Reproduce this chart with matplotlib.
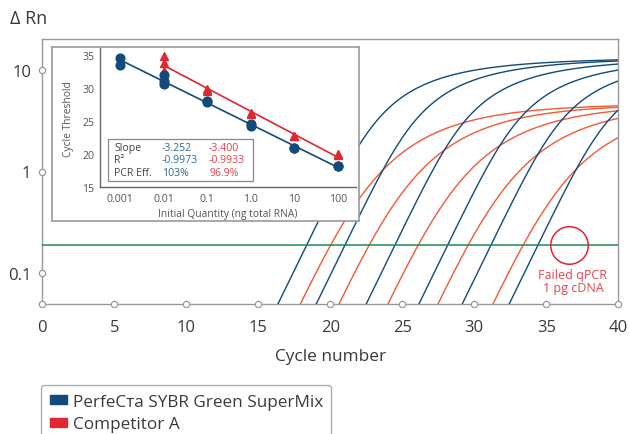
import numpy as np
import matplotlib
matplotlib.use("Agg")
import matplotlib.pyplot as plt
from matplotlib.patches import Rectangle, Patch
from matplotlib.ticker import NullLocator

plt.rcParams['font.family'] = ['Open Sans', 'DejaVu Sans']

# ---- main amplification plot data ----
threshold = 0.19
# cycle where each curve crosses the threshold, and its plateau level
blue_ct = [18.36, 21.02, 24.49, 28.15, 31.16, 34.42]
blue_fmax = [13.0, 13.0, 12.9, 12.9, 12.9, 12.9]
orange_ct = [20.03, 22.71, 26.11, 29.58, 33.40]
orange_fmax = [4.6, 4.6, 4.6, 4.6, 4.6]

x_ticks = [0, 5, 10, 15, 20, 25, 30, 35, 40]
y_ticks = [0.1, 1, 10]
y_ticklabels = ['0.1', '1', '10']

# ---- inset standard curve data ----
inset_q = [0.001, 0.01, 0.1, 1.0, 10, 100]
inset_qlabels = ['0.001', '0.01', '0.1', '1.0', '10', '100']
blue_q = [0.001, 0.001, 0.01, 0.01, 0.01, 0.1, 0.1, 1.0, 1.0, 10, 10, 100, 100]
blue_cq = [34.5, 33.5, 32.0, 31.0, 30.5, 28.0, 27.8, 24.5, 24.2, 21.0, 20.9, 18.25, 18.2]
red_q = [0.01, 0.01, 0.01, 0.1, 0.1, 1.0, 1.0, 10, 10, 100, 100]
red_cq = [34.75, 33.75, 32.5, 29.85, 29.5, 26.25, 26.1, 22.75, 22.7, 20.0, 19.9]

stat_names = ['Slope', 'R²', 'PCR Eff.']
stat_blue = ['-3.252', '-0.9973', '103%']
stat_red = ['-3.400', '-0.9933', '96.9%']

BLUE = '#124a7c'
ORANGE = '#f15a33'
RED = '#e0262f'
GREEN = '#1e8a4e'
GRAY = '#9a9a9a'
TXT = '#3a3a3a'


def amp_curve(ct, fmax, s, a, b, step=0.01):
    # growth in log space, slowing down as the signal nears its plateau
    def h(d):
        return 1 - np.exp(-a * d - b * d * d)
    d0 = np.log10(fmax / threshold)
    fwd = [d0]
    for _ in range(int((40 - ct) / step) + 1):
        d = fwd[-1]
        fwd.append(d - s * h(d) * step)
    back = [d0]
    for _ in range(int((ct - 12) / step)):
        d = back[-1]
        back.append(d + s * h(d) * step)
    back = back[::-1]
    c_back = ct - step * np.arange(len(back))[::-1]
    c_fwd = ct + step * np.arange(len(fwd))
    cyc = np.concatenate([c_back, c_fwd[1:]])
    dd = np.concatenate([back, fwd[1:]])
    return cyc, fmax * 10 ** (-dd)


W, H = 630, 435


def fx(x):
    return x / W


def fy(y):
    return 1 - y / H


fig = plt.figure(figsize=(6.3, 4.35), dpi=100)

ax = fig.add_axes([fx(42.3), fy(305), (618.3 - 42.3) / W, (305 - 40) / H], zorder=1)
ax.set_yscale('log')
for ct, fm in zip(orange_ct, orange_fmax):
    c, f = amp_curve(ct, fm, 0.30, 0.7, 0.5)
    ax.plot(c, f, color=ORANGE, lw=1.0, zorder=2)
for ct, fm in zip(blue_ct, blue_fmax):
    c, f = amp_curve(ct, fm, 0.29, 0.6, 1.3)
    ax.plot(c, f, color=BLUE, lw=1.0, zorder=3)
ax.axhline(threshold, color=GREEN, lw=1.1, zorder=4)

ax.set_xlim(0, 40)
ax.set_ylim(0.05, 20)
ax.set_xticks(x_ticks)
ax.set_xticklabels([str(t) for t in x_ticks])
ax.set_yticks(y_ticks)
ax.set_yticklabels(y_ticklabels)
ax.yaxis.set_minor_locator(NullLocator())
ax.tick_params(length=0, labelsize=12, colors=TXT)
ax.tick_params(axis='x', pad=11)
ax.tick_params(axis='y', pad=8)
for sp in ax.spines.values():
    sp.set_color(GRAY)
    sp.set_linewidth(1)
ax.plot(x_ticks, [0.05] * len(x_ticks), 'o', ms=4.5, mfc='white', mec=GRAY,
        mew=0.9, clip_on=False, zorder=6)
ax.plot([0] * len(y_ticks), y_ticks, 'o', ms=4.5, mfc='white', mec=GRAY,
        mew=0.9, clip_on=False, zorder=6)
ax.set_xlabel('Cycle number', fontsize=12.4, color=TXT, labelpad=9)
fig.text(fx(10), fy(19), 'Δ Rn', fontsize=13, color=TXT, va='center')

# failed qPCR marker
ax.plot(36.6, threshold, 'o', ms=27, mfc='none', mec=RED, mew=1.1, zorder=5)
ax.text(36.85, 0.085, 'Failed qPCR\n1 pg cDNA', color='#e8444f', fontsize=9,
        ha='center', va='center', linespacing=1.0, zorder=5)

# ---- inset ----
box = fig.add_axes([fx(52), fy(222), (359 - 52) / W, (222 - 48) / H], zorder=2)
box.set_xticks([])
box.set_yticks([])
for sp in box.spines.values():
    sp.set_color(GRAY)
    sp.set_linewidth(1.2)

ins = fig.add_axes([fx(100), fy(188.3), (356 - 100) / W, (188.3 - 49) / H], zorder=3)
ins.patch.set_alpha(0)
ins.set_xscale('log')
ins.set_xlim(10 ** -3.46, 10 ** 2.42)
ins.set_ylim(15, 36)
bq = np.log10(blue_q)
rq = np.log10(red_q)
bfit = np.polyfit(bq, blue_cq, 1)
rfit = np.polyfit(rq, red_cq, 1)
bx = np.array([min(blue_q), max(blue_q)])
rx = np.array([min(red_q), max(red_q)])
ins.plot(bx, np.polyval(bfit, np.log10(bx)), color=BLUE, lw=1.2, zorder=2)
ins.plot(rx, np.polyval(rfit, np.log10(rx)), color=RED, lw=1.2, zorder=2)
ins.plot(red_q, red_cq, '^', color=RED, ms=6, zorder=3)
ins.plot(blue_q, blue_cq, 'o', color=BLUE, ms=6.3, zorder=4)
ins.set_xticks(inset_q)
ins.set_xticklabels(inset_qlabels)
ins.xaxis.set_minor_locator(NullLocator())
ins.set_yticks([15, 20, 25, 30, 35])
ins.tick_params(length=0, labelsize=7.6, colors='#555555', pad=4)
for side in ['top', 'right']:
    ins.spines[side].set_visible(False)
for side in ['left', 'bottom']:
    ins.spines[side].set_color('#666666')
    ins.spines[side].set_linewidth(1)
ins.set_xlabel('Initial Quantity (ng total RNA)', fontsize=7.4, color='#555555', labelpad=3)
ins.set_ylabel('Cycle Threshold', fontsize=7.4, color='#555555', labelpad=6)

tbl = Rectangle((fx(108), fy(182)), (253 - 108) / W, (182 - 140) / H,
                transform=fig.transFigure, fc='white', ec='#888888', lw=0.9, zorder=5)
fig.add_artist(tbl)
row_y = [148.5, 161, 174]
for yy, n, vb, vr in zip(row_y, stat_names, stat_blue, stat_red):
    fig.text(fx(114), fy(yy), n, fontsize=7.6, color='#444444', va='center', zorder=6)
    fig.text(fx(162), fy(yy), vb, fontsize=7.6, color='#2d6aa0', va='center', zorder=6)
    fig.text(fx(209), fy(yy), vr, fontsize=7.6, color='#e8404a', va='center', zorder=6)

# ---- legend ----
handles = [Patch(fc=BLUE, ec=BLUE), Patch(fc=RED, ec=RED)]
labels = ['PerfeCтa SYBR Green SuperMix', 'Competitor A']
leg = fig.legend(handles, labels, loc='upper left', bbox_to_anchor=(fx(41), fy(386)),
                 fontsize=12.3, frameon=True, fancybox=True, edgecolor=GRAY,
                 handlelength=1.0, handleheight=0.45, handletextpad=0.35,
                 borderaxespad=0, borderpad=0.5, labelspacing=0.4)
leg.get_frame().set_linewidth(1)
for t in leg.get_texts():
    t.set_color(TXT)

fig.savefig('out.png', dpi=100)
